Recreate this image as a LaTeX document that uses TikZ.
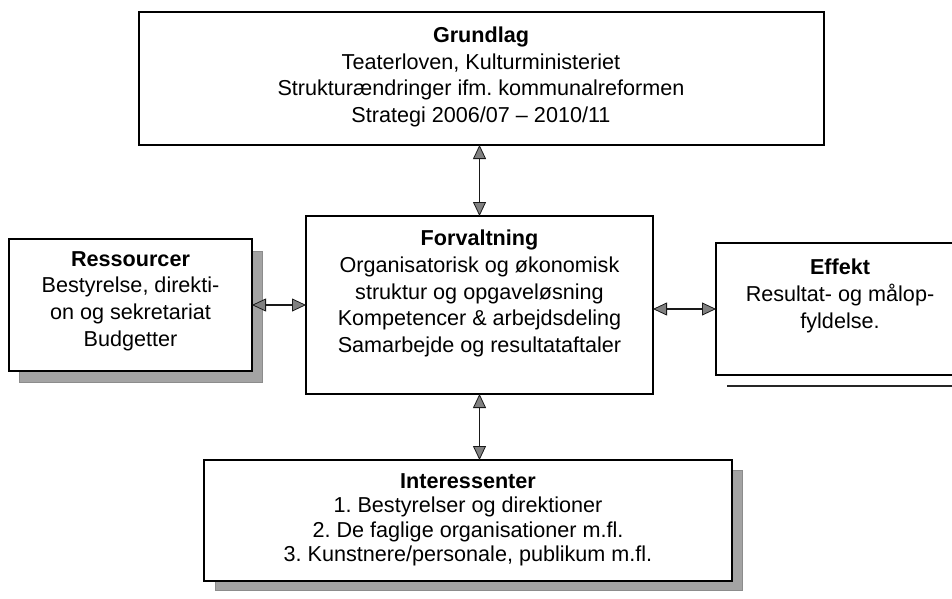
\documentclass[tikz,border=0pt]{standalone}
\usepackage{fontspec}
\setmainfont{Liberation Sans}
\usetikzlibrary{arrows.meta}
\frenchspacing
\begin{document}
\begin{tikzpicture}[x=1pt,y=-1pt,
  box/.style={draw=black, line width=1.8pt, fill=white, inner sep=0pt, outer sep=0pt},
  shadowfill/.style={fill=black!36, draw=black!45, line width=0.5pt},
  txt/.style={align=center, font=\fontsize{21.6}{26.6}\selectfont, inner sep=0pt},
  txtsmall/.style={align=center, font=\fontsize{21.6}{24.5}\selectfont, inner sep=0pt},
  tipstyle/.tip={Triangle[length=14pt,width=13pt,fill=black!50,line width=0.8pt]},
  link/.style={line width=1.8pt, draw=black!90, tipstyle-tipstyle}
]
\useasboundingbox (0,0) rectangle (952,599);
\clip (0,0) rectangle (952,599);
\fill[white] (0,0) rectangle (952,599);

% shadows
\filldraw[shadowfill] (19,251) rectangle (262,382);
\filldraw[shadowfill] (215,470) rectangle (742,590);
\draw[line width=1.2pt, black!85] (727,386) -- (952,386);

% boxes
\node[box, minimum width=685pt, minimum height=133pt] (grundlag) at (481.5,78.5) {};
\node[box, minimum width=243pt, minimum height=132pt] (ress) at (130.5,305) {};
\node[box, minimum width=347pt, minimum height=178pt] (forv) at (479.5,305) {};
\node[box, minimum width=248pt, minimum height=132pt] (effekt) at (840,309) {};
\node[box, minimum width=528pt, minimum height=121pt] (inter) at (468,520.5) {};

% texts
\node[txt] (grundlagtxt) at (481,77) {\textbf{Grundlag}\\Teaterloven, Kulturministeriet\\Strukturændringer ifm. kommunalreformen\\Strategi 2006/07 – 2010/11};
\node[txt] (resstxt) at (130.5,301) {\textbf{Ressourcer}\\Bestyrelse, direkti-\\on og sekretariat\\Budgetter};
\node[txt] (forvtxt) at (479.5,293.5) {\textbf{Forvaltning}\\Organisatorisk og økonomisk\\struktur og opgaveløsning\\Kompetencer \& arbejdsdeling\\Samarbejde og resultataftaler};
\node[txt] (effekttxt) at (840,296) {\textbf{Effekt}\\Resultat- og målop-\\fyldelse.};
\node[txtsmall] (intertxt) at (468,520) {\textbf{Interessenter}\\1. Bestyrelser og direktioner\\2. De faglige organisationer m.fl.\\3. Kunstnere/personale, publikum m.fl.};

% connectors
\draw[link] (forv.north) -- (forv.north |- grundlag.south);
\draw[link] (forv.south) -- (forv.south |- inter.north);
\draw[link] (ress.east) -- (ress.east -| forv.west);
\draw[link] (effekt.west) -- (effekt.west -| forv.east);
\end{tikzpicture}
\end{document}
